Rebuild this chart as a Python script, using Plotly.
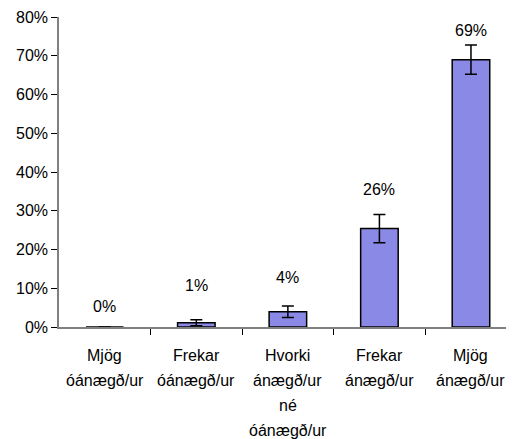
import plotly.graph_objects as go

categories = ['Mjög<br>óánægð/ur', 'Frekar<br>óánægð/ur', 'Hvorki<br>ánægð/ur<br>né<br>óánægð/ur',
              'Frekar<br>ánægð/ur', 'Mjög<br>ánægð/ur']
values = [0.0, 1.1, 3.95, 25.4, 69.0]
errors = [0.0, 0.75, 1.5, 3.65, 3.8]
value_labels = ['0%', '1%', '4%', '26%', '69%']
label_heights = [5.2, 10.8, 12.7, 35.6, 76.6]

font = dict(family='Liberation Sans, Arial, sans-serif', size=16, color='black')

fig = go.Figure(go.Bar(
    x=list(range(len(categories))), y=values, width=0.41,
    marker=dict(color='#8a8ae6', line=dict(color='black', width=1.5)),
    error_y=dict(type='data', array=errors, color='black', thickness=1.5, width=6),
))

for i, (lab, h) in enumerate(zip(value_labels, label_heights)):
    fig.add_annotation(x=i, y=h, text=lab, showarrow=False, font=font)

# category labels, one annotation per line for the wide line spacing
for i, cat in enumerate(categories):
    for j, line in enumerate(cat.split('<br>')):
        fig.add_annotation(x=i, y=0, xref='x', yref='paper', yanchor='middle', text=line,
                           showarrow=False, font=font, yshift=-28 - 25 * j)

# page body has an 8px margin, so the figure is shifted by 8px
fig.update_layout(
    width=506, height=439, margin=dict(l=51, r=0, t=9, b=120),
    paper_bgcolor='white', plot_bgcolor='white', showlegend=False, font=font,
)
fig.update_xaxes(range=[-0.5, 4.47], showticklabels=False, tickvals=[0.5, 1.5, 2.5, 3.5],
                 ticks='outside', ticklen=6, tickcolor='black', showline=True, linecolor='#808080',
                 linewidth=1.5, showgrid=False, zeroline=False)
fig.update_yaxes(range=[0, 80], dtick=10, ticksuffix='%', ticks='outside', ticklen=6,
                 tickcolor='black', showline=True, linecolor='#808080', linewidth=1.5,
                 showgrid=False, zeroline=False, tickfont=font)

fig.write_html('out.html')
